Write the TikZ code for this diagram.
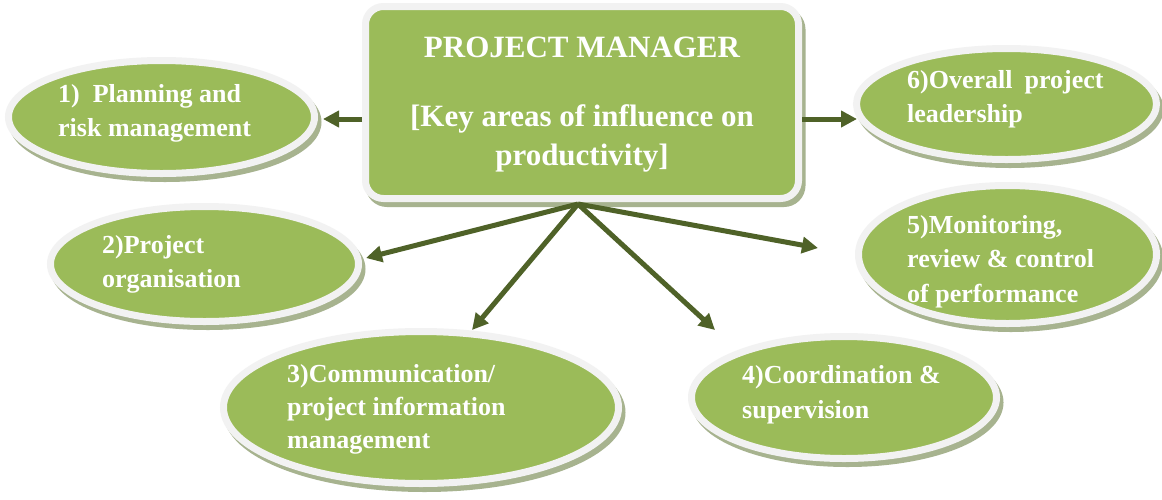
\documentclass[tikz,border=0pt]{standalone}
\usepackage{fontspec}
\setmainfont{Liberation Serif}
\usetikzlibrary{arrows.meta,shapes.geometric,shadows}
\definecolor{leaf}{HTML}{9BBB59}
\definecolor{rim}{HTML}{F2F2F2}
\definecolor{shade}{HTML}{A7B38F}
\definecolor{olive}{HTML}{4F6228}
\begin{document}
\begin{tikzpicture}[x=1pt,y=-1pt,
  pshadow/.style={drop shadow={shadow xshift=3.5pt, shadow yshift=-5pt, fill=shade, draw=shade, line width=7pt, opacity=1}},
  bubble/.style={ellipse, draw=rim, fill=leaf, line width=7pt, inner sep=0pt, pshadow},
  mainbox/.style={rectangle, rounded corners=18pt, draw=rim, fill=leaf, line width=7pt, inner sep=0pt, pshadow},
  lbl/.style={anchor=base west, inner sep=0pt, text=white, font=\fontsize{26}{34}\selectfont\bfseries},
  conn/.style={draw=olive, line width=5pt, -{Triangle[length=16pt,width=16pt]}}
]
\fill[white] (0,0) rectangle (1162,499);
\useasboundingbox (0,0) rectangle (1162,499);

% central box
\node[mainbox, minimum width=433pt, minimum height=192pt] (pm) at (582,102.5) {};
\node[anchor=base, inner sep=0pt, text=white, font=\fontsize{31}{39}\selectfont\bfseries] (pmtext) at (582,57)
  {\begin{tabular}[t]{@{}c@{}}PROJECT MANAGER\\[30pt]{[}Key areas of influence on\\productivity{]}\end{tabular}};

% ellipses
\node[bubble, minimum width=306pt, minimum height=113pt] (e1) at (161.5,117) {};
\node[bubble, minimum width=308pt, minimum height=115pt] (e2) at (204.5,264) {};
\node[bubble, minimum width=395pt, minimum height=152pt] (e3) at (421,407.5) {};
\node[bubble, minimum width=305pt, minimum height=122pt] (e4) at (844,397.5) {};
\node[bubble, minimum width=298pt, minimum height=138pt] (e5) at (1007.5,254.5) {};
\node[bubble, minimum width=300pt, minimum height=111pt] (e6) at (1006.5,104) {};

% ellipse texts
\node[lbl] (t1) at (58,102) {\begin{tabular}[t]{@{}l@{}}1)\ \ Planning and\\risk management\end{tabular}};
\node[lbl] (t2) at (102,253) {\begin{tabular}[t]{@{}l@{}}2)Project\\organisation\end{tabular}};
\node[lbl, font=\fontsize{26}{33}\selectfont\bfseries] (t3) at (287,382) {\begin{tabular}[t]{@{}l@{}}3)Communication/\\project information\\management\end{tabular}};
\node[lbl, font=\fontsize{26}{35}\selectfont\bfseries] (t4) at (742,383) {\begin{tabular}[t]{@{}l@{}}4)Coordination \&\\supervision\end{tabular}};
\node[lbl, font=\fontsize{26}{34.5}\selectfont\bfseries] (t5) at (907,233) {\begin{tabular}[t]{@{}l@{}}5)Monitoring,\\review \& control\\of performance\end{tabular}};
\node[lbl] (t6) at (907,88) {\begin{tabular}[t]{@{}l@{}}6)Overall\hspace{12pt}project\\leadership\end{tabular}};

% connectors
\coordinate (hub) at (578,204);
\coordinate (tip1) at (323,119);
\coordinate (tip6) at (857,119);
\coordinate (tip2) at (366,258);
\coordinate (tip3) at (472,330);
\coordinate (tip4) at (715,330);
\coordinate (tip5) at (818,248);

\draw[conn] (pm.west |- tip1) -- (tip1);
\draw[conn] (pm.east |- tip6) -- (tip6);
\draw[conn] (hub) -- (tip2);
\draw[conn] (hub) -- (tip3);
\draw[conn] (hub) -- (tip4);
\draw[conn] (hub) -- (tip5);
\end{tikzpicture}
\end{document}
